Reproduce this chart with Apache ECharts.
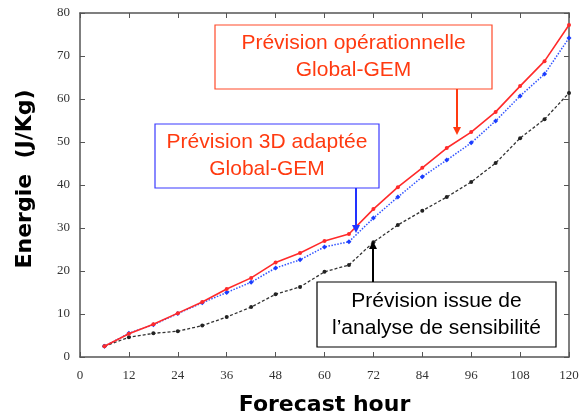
<!DOCTYPE html>
<html>
<head>
<meta charset="utf-8">
<script src="https://cdn.jsdelivr.net/npm/echarts@6/dist/echarts.min.js"></script>
<style>
  html, body { margin: 0; padding: 0; background: #fff; }
  #chart { width: 582px; height: 416px; }
</style>
</head>
<body>
<div id="chart"></div>
<script>
// Forecast lead times (hours)
const hours = [6, 12, 18, 24, 30, 36, 42, 48, 54, 60, 66, 72, 78, 84, 90, 96, 102, 108, 114, 120];

// Energy (J/Kg) per forecast configuration
const operational = [2.5, 5.4, 7.6, 10.2, 12.8, 15.8, 18.4, 22.0, 24.2, 27.0, 28.6, 34.4, 39.5, 44.0, 48.6, 52.3, 57.0, 63.0, 68.8, 77.2];
const adapted3D   = [2.5, 5.5, 7.5, 10.1, 12.6, 15.0, 17.4, 20.7, 22.6, 25.6, 26.8, 32.3, 37.2, 41.9, 45.8, 49.8, 54.9, 60.7, 65.8, 74.2];
const sensitivity = [2.5, 4.6, 5.5, 6.0, 7.3, 9.3, 11.6, 14.6, 16.3, 19.8, 21.4, 26.7, 30.7, 34.0, 37.2, 40.7, 45.1, 50.9, 55.3, 61.4];

const xTicks = { min: 0, max: 120, interval: 12 };
const yTicks = { min: 0, max: 80, interval: 10 };

const pair = (vals) => hours.map((h, i) => [h, vals[i]]);

const axisGrey = '#555';
const labelFont = { fontFamily: 'Liberation Serif', fontSize: 13, color: '#333' };
const titleFont = { fontFamily: 'DejaVu Sans', fontWeight: 'bold', fontSize: 22, color: '#000' };

const chart = echarts.init(document.getElementById('chart'), null, { renderer: 'canvas' });

function box(cx, cy, w, h, stroke, textColor, lines) {
  return [
    { type: 'rect', shape: { x: cx - w / 2, y: cy - h / 2, width: w, height: h },
      style: { fill: '#fff', stroke: stroke, lineWidth: 1.2 }, z: 10 },
    { type: 'text', x: cx, y: cy, z: 11,
      style: { text: lines.join('\n'), fill: textColor, font: '21px "Liberation Sans"',
               align: 'center', verticalAlign: 'middle', lineHeight: 27 } }
  ];
}

function arrow(x, y1, y2, color) {
  const dir = y2 > y1 ? 1 : -1;
  return [
    { type: 'line', shape: { x1: x, y1: y1, x2: x, y2: y2 - dir * 6 },
      style: { stroke: color, lineWidth: 2 }, z: 12 },
    { type: 'polygon', shape: { points: [[x - 4, y2 - dir * 8], [x + 4, y2 - dir * 8], [x, y2]] },
      style: { fill: color }, z: 12 }
  ];
}

chart.setOption({
  animation: false,
  backgroundColor: '#fff',
  grid: { left: 80, right: 13, top: 13, bottom: 59, containLabel: false, outerBoundsMode: 'none' },
  xAxis: [
    {
      type: 'value', min: xTicks.min, max: xTicks.max, interval: xTicks.interval,
      name: 'Forecast hour', nameLocation: 'middle', nameGap: 37,
      nameTextStyle: titleFont,
      axisLine: { show: true, onZero: false, lineStyle: { color: axisGrey, width: 1.5 } },
      axisTick: { show: true, inside: true, length: 5, lineStyle: { color: axisGrey } },
      axisLabel: Object.assign({ margin: 12 }, labelFont),
      splitLine: { show: false }
    },
    {
      type: 'value', position: 'top', min: xTicks.min, max: xTicks.max, interval: xTicks.interval,
      axisLine: { show: true, onZero: false, lineStyle: { color: axisGrey, width: 1.5 } },
      axisTick: { show: true, inside: true, length: 5, lineStyle: { color: axisGrey } },
      axisLabel: { show: false }, splitLine: { show: false }
    }
  ],
  yAxis: [
    {
      type: 'value', min: yTicks.min, max: yTicks.max, interval: yTicks.interval,
      name: 'Energie  (J/Kg)', nameLocation: 'middle', nameGap: 44,
      nameTextStyle: Object.assign({ padding: [0, 0, 0, 12] }, titleFont),
      axisLine: { show: true, onZero: false, lineStyle: { color: axisGrey, width: 1.5 } },
      axisTick: { show: true, inside: true, length: 5, lineStyle: { color: axisGrey } },
      axisLabel: Object.assign({ margin: 10 }, labelFont),
      splitLine: { show: false }
    },
    {
      type: 'value', position: 'right', min: yTicks.min, max: yTicks.max, interval: yTicks.interval,
      axisLine: { show: true, onZero: false, lineStyle: { color: axisGrey, width: 1.5 } },
      axisTick: { show: true, inside: true, length: 5, lineStyle: { color: axisGrey } },
      axisLabel: { show: false }, splitLine: { show: false }
    }
  ],
  series: [
    {
      name: 'Prévision issue de l’analyse de sensibilité', type: 'line', data: pair(sensitivity),
      symbol: 'circle', symbolSize: 4, z: 3,
      lineStyle: { color: '#333', width: 1.3, type: [3, 2] },
      itemStyle: { color: '#222' }
    },
    {
      name: 'Prévision 3D adaptée Global-GEM', type: 'line', data: pair(adapted3D),
      symbol: 'diamond', symbolSize: 5, z: 4,
      lineStyle: { color: '#3355ff', width: 1.5, type: [1.5, 1.5] },
      itemStyle: { color: '#1a3cff' }
    },
    {
      name: 'Prévision opérationnelle Global-GEM', type: 'line', data: pair(operational),
      symbol: 'circle', symbolSize: 4, z: 5,
      lineStyle: { color: '#ff2a2a', width: 1.6 },
      itemStyle: { color: '#ff2a2a' }
    }
  ],
  graphic: [].concat(
    box(353.5, 57, 277, 64, '#ff4a2a', '#ff3a10', ['Prévision opérationnelle', 'Global-GEM']),
    arrow(457, 89, 135, '#ff3a10'),
    box(267, 156, 224, 64, '#3a3aff', '#ff3a10', ['Prévision 3D adaptée', 'Global-GEM']),
    arrow(356, 188, 233, '#2233ff'),
    box(436.5, 314.5, 239, 65, '#000', '#000', ['Prévision issue de', 'l’analyse de sensibilité']),
    arrow(373, 282, 241, '#000')
  )
});
</script>
</body>
</html>
